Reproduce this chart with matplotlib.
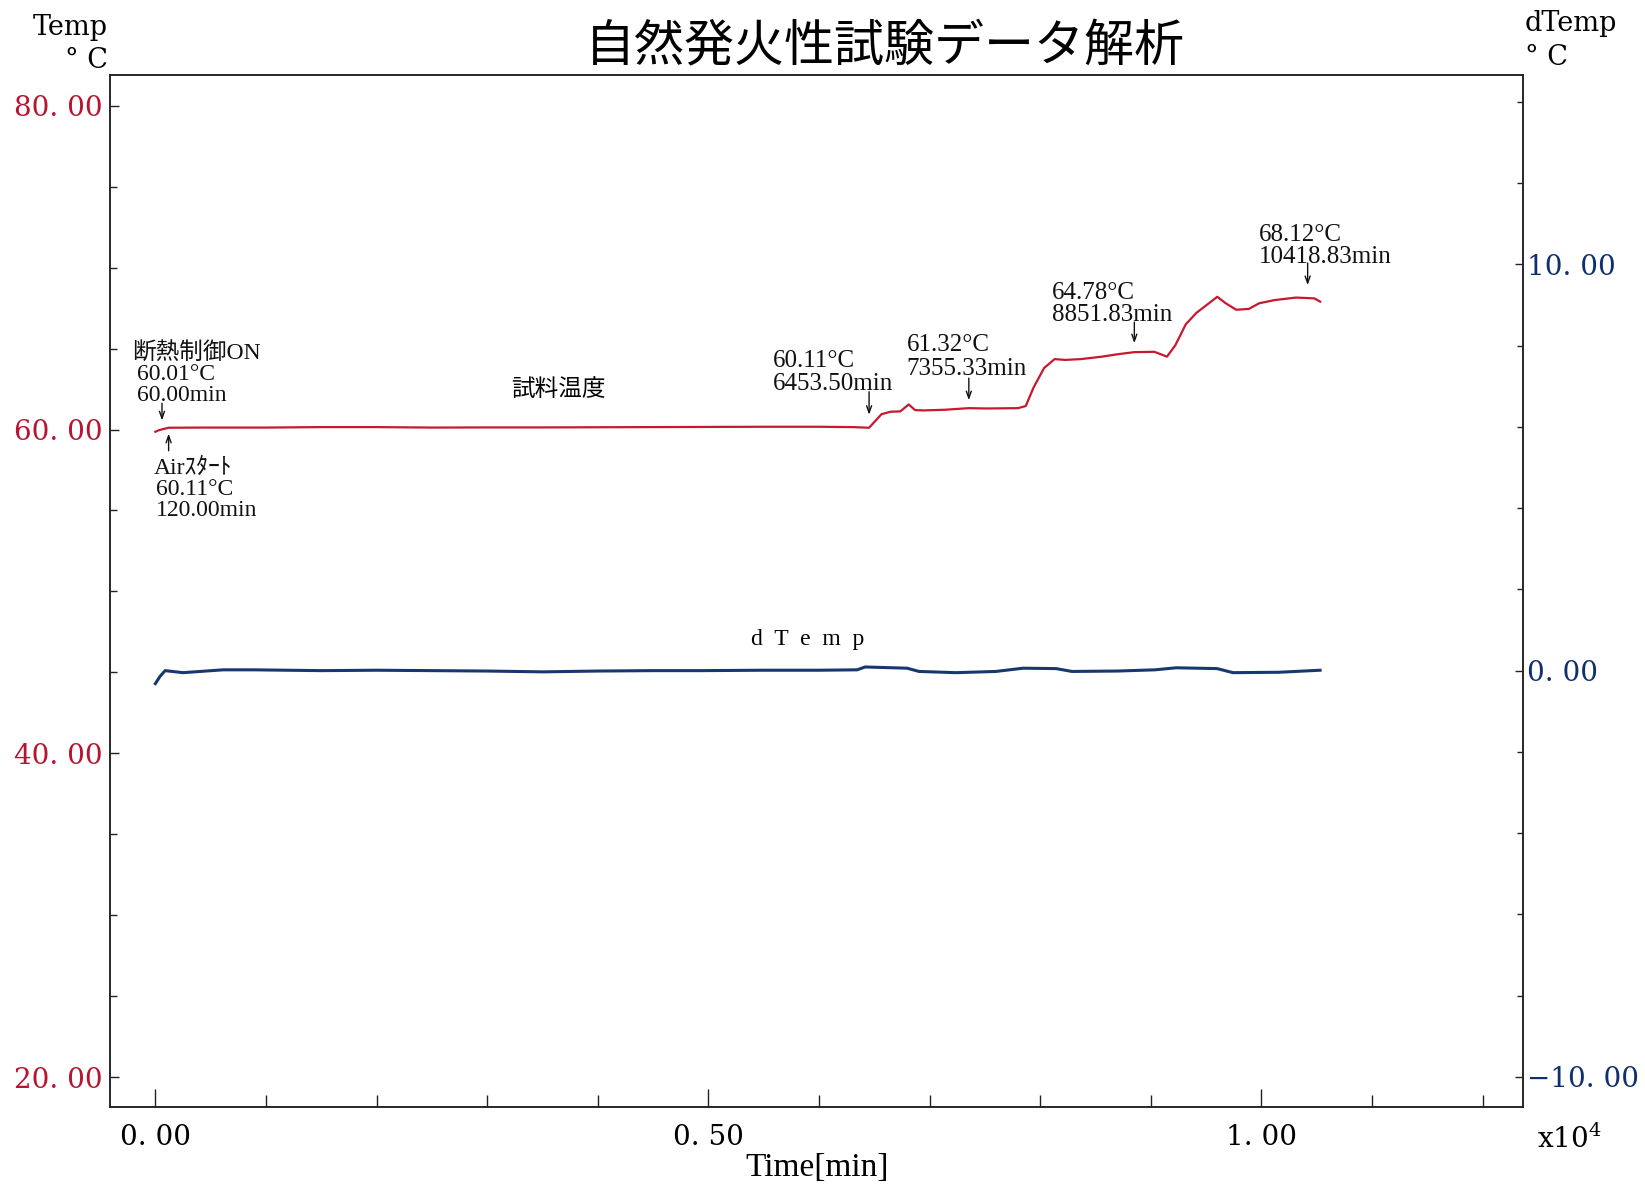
import matplotlib
matplotlib.use("Agg")
import matplotlib.pyplot as plt
from matplotlib.ticker import MultipleLocator, FuncFormatter

# sample temperature [deg C] against elapsed time [min]
time_min = [0, 30, 60.00, 120.00, 400, 1000, 1500, 2000, 2500, 3000, 3500,
            4000, 4500, 5000, 5500, 6000, 6300, 6453.50, 6566, 6650, 6736,
            6812, 6869, 6945, 7135, 7355.33, 7514, 7799, 7870, 7941, 8036,
            8131, 8226, 8368, 8558, 8700, 8851.83, 9033, 9147, 9222, 9317,
            9412, 9526, 9602, 9678, 9773, 9887, 9981, 10124, 10313, 10418.83,
            10480, 10532]
sample_temp = [59.86, 59.95, 60.01, 60.11, 60.12, 60.12, 60.15, 60.15, 60.12,
               60.13, 60.13, 60.14, 60.15, 60.16, 60.17, 60.17, 60.15, 60.11,
               60.95, 61.10, 61.12, 61.55, 61.20, 61.18, 61.22, 61.32, 61.30,
               61.32, 61.45, 62.60, 63.80, 64.35, 64.30, 64.35, 64.50, 64.65,
               64.78, 64.80, 64.50, 65.20, 66.50, 67.20, 67.80, 68.20, 67.80,
               67.40, 67.45, 67.80, 68.00, 68.15, 68.12, 68.10, 67.90]

# dTemp trace [deg C]
dtemp_time = [0, 40, 88, 250, 614, 885, 1500, 2000, 2500, 3000, 3500, 4000,
              4500, 4925, 5500, 6000, 6345, 6417, 6797, 6905, 7240, 7600,
              7845, 8144, 8288, 8700, 9039, 9229, 9600, 9744, 10160, 10531]
dtemp = [-0.32, -0.15, 0.00, -0.05, 0.02, 0.02, 0.00, 0.01, 0.00, -0.01,
         -0.03, -0.01, 0.00, 0.00, 0.01, 0.01, 0.02, 0.09, 0.06, -0.02,
         -0.05, -0.02, 0.06, 0.05, -0.02, -0.01, 0.02, 0.07, 0.05, -0.05,
         -0.04, 0.01]

# marked events on the sample temperature
event_time = [60.00, 120.00, 6453.50, 7355.33, 8851.83, 10418.83]
event_temp = [60.01, 60.11, 60.11, 61.32, 64.78, 68.12]
event_name = ["断熱制御ON", "Airｽﾀｰﾄ", None, None, None, None]

# arrow (tail, tip), text offset, first baseline, line step and size
event_layout = [
    dict(arrow=(26, 9), dx=-25, base=70, step=-21, name_dx=-30, size=17),
    dict(arrow=(-23, -6), dx=-13, base=-46, step=-21, name_dx=-15, size=17),
    dict(arrow=(36, 13), dx=-96, base=61, step=-23, size=18),
    dict(arrow=(30, 8), dx=-62, base=57, step=-24, size=18),
    dict(arrow=(30, 9), dx=-82, base=53, step=-22, size=18),
    dict(arrow=(35, 13), dx=-49, base=57, step=-22, size=18),
]

RED = "#b8142f"
NAVY = "#0f2f6e"
LINE_RED = "#c8182f"
LINE_BLUE = "#17386f"
W, H = 1645, 1188

plt.rcParams["font.family"] = ["DejaVu Serif", "Noto Sans CJK JP"]
plt.rcParams["mathtext.fontset"] = "dejavuserif"
note_font = ["Liberation Serif", "Noto Sans CJK JP"]


def fmt_value(v, pos=None):
    return f"{v:.2f}".replace(".", ". ").replace("-", "\u2212")


def fmt_time(v, pos=None):
    return f"{v / 1e4:.2f}".replace(".", ". ")


fig = plt.figure(figsize=(W / 100, H / 100), dpi=100)
ax = fig.add_axes([110 / W, 1 - 1107 / H, (1523 - 110) / W, (1107 - 75) / H])
ax2 = ax.twinx()

ax.plot(time_min, sample_temp, color=LINE_RED, lw=1.6, zorder=3)
ax2.plot(dtemp_time, dtemp, color=LINE_BLUE, lw=2.2, zorder=3)

ax.set_xlim(-410, 12366)
ax.set_ylim(18.15, 81.9)
ax2.set_ylim(-10.74, 14.66)

# ticks point into the plot, as on the recorder chart
ax.xaxis.set_major_locator(MultipleLocator(5000))
ax.xaxis.set_minor_locator(MultipleLocator(1000))
ax.xaxis.set_major_formatter(FuncFormatter(fmt_time))
ax.yaxis.set_major_locator(MultipleLocator(20))
ax.yaxis.set_minor_locator(MultipleLocator(5))
ax.yaxis.set_major_formatter(FuncFormatter(fmt_value))
ax2.yaxis.set_major_locator(MultipleLocator(10))
ax2.yaxis.set_minor_locator(MultipleLocator(2))
ax2.yaxis.set_major_formatter(FuncFormatter(fmt_value))

ax.tick_params(axis="x", which="both", direction="in", top=False,
               labelsize=20, pad=12, width=1.0, color="#222222")
ax.tick_params(axis="x", which="major", length=13)
ax.tick_params(axis="x", which="minor", length=8.5)
ax.tick_params(axis="y", which="both", direction="in", right=False,
               labelsize=20, labelcolor=RED, pad=5, width=1.0, color="#222222")
ax.tick_params(axis="y", which="major", length=6.5)
ax.tick_params(axis="y", which="minor", length=5)
ax2.tick_params(axis="y", which="both", direction="in", left=False,
                labelsize=20, labelcolor=NAVY, pad=3, width=1.0, color="#222222")
ax2.tick_params(axis="y", which="major", length=6)
ax2.tick_params(axis="y", which="minor", length=4.5)

for a in (ax, ax2):
    for sp in a.spines.values():
        sp.set_color("#222222")
        sp.set_linewidth(1.1)

# axis captions
fig.text(108 / W, 1 - 35 / H, "Temp", ha="right", va="baseline", fontsize=19.5)
fig.text(108 / W, 1 - 68 / H, "° C", ha="right", va="baseline", fontsize=19.5)
fig.text(1525 / W, 1 - 31 / H, "dTemp", ha="left", va="baseline", fontsize=19.5)
fig.text(1525 / W, 1 - 65 / H, "° C", ha="left", va="baseline", fontsize=19.5)
fig.text(817 / W, 1 - 1168 / H, "Time[min]", ha="center", va="center",
         fontsize=24, family=note_font)
fig.text(1537 / W, 1 - 1148 / H, "x10$^{4}$", ha="left", va="baseline",
         fontsize=20)

fig.text(885 / W, 1 - 47 / H, "自然発火性試験データ解析", ha="center",
         va="center", fontsize=36, family="Noto Sans CJK JP")

# series names
ax.text(3641, 62.46, "試料温度", ha="center", va="center", fontsize=17,
        family="Noto Sans CJK JP")
ax2.text(5901, 0.755, "d  T  e  m  p", ha="center", va="center", fontsize=17,
         family=note_font)

# event markers: arrow plus temperature / time readout
for t, temp, name, lay in zip(event_time, event_temp, event_name, event_layout):
    tail, tip = lay["arrow"]
    ax.annotate("", xy=(t, temp), xytext=(0, tail), textcoords="offset pixels",
                arrowprops=dict(arrowstyle="->,head_length=0.5,head_width=0.18",
                                lw=1.0, color="#111111", shrinkA=0,
                                shrinkB=abs(tip) * 0.72))
    lines = [f"{temp:.2f}°C", f"{t:.2f}min"]
    offsets = [lay["dx"], lay["dx"]]
    if name:
        lines = [name] + lines
        offsets = [lay.get("name_dx", lay["dx"])] + offsets
    # stack lines downward from the first baseline
    for i, (line, dx) in enumerate(zip(lines, offsets)):
        dy = lay["base"] + i * lay["step"]
        ax.annotate(line, xy=(t, temp), xytext=(dx, dy),
                    textcoords="offset pixels", ha="left", va="baseline",
                    fontsize=lay["size"], family=note_font, color="#111111")

fig.savefig("out.png", dpi=100, facecolor="white")
